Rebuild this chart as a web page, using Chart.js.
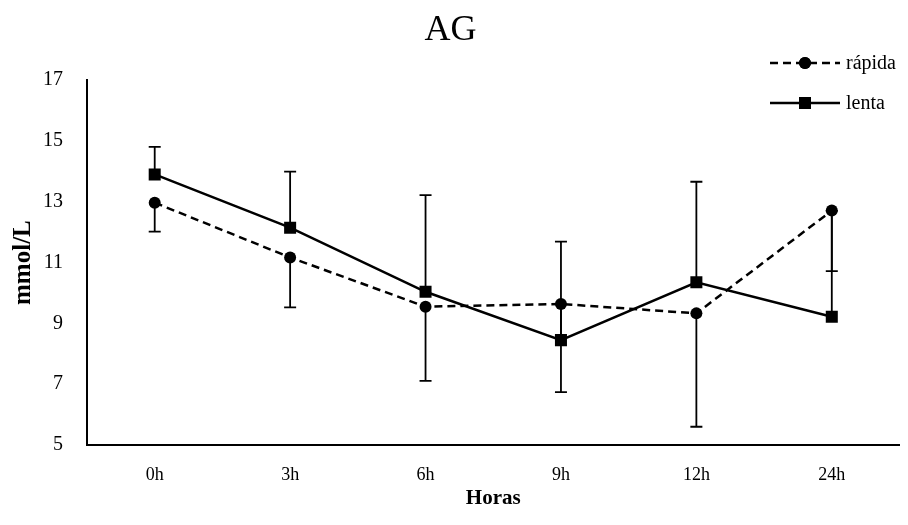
<!DOCTYPE html>
<html>
<head>
<meta charset="utf-8">
<title>AG</title>
<script src="https://cdn.jsdelivr.net/npm/chart.js@4"></script>
<style>
  body { margin: 0; background: #fff; }
  #wrap { width: 908px; height: 525px; }
</style>
</head>
<body>
<div id="wrap"><canvas id="myChart"></canvas></div>
<script>
const horas = ['0h', '3h', '6h', '9h', '12h', '24h'];
const rapida = [12.97, 11.17, 9.55, 9.64, 9.33, 12.71];
const lenta = [13.90, 12.15, 10.04, 8.45, 10.35, 9.22];
// one-sided error bars: rapida downwards, lenta upwards
const rapidaErr = [0.95, 1.64, 2.44, 2.90, 3.73, 1.99];
const lentaErr = [0.91, 1.84, 3.18, 3.24, 3.31, 3.48];
const yTicks = [5, 7, 9, 11, 13, 15, 17];

const serif = "'Liberation Serif', 'Times New Roman', serif";

const errorBars = {
    id: 'errorBars',
    beforeDatasetsDraw(chart) {
        const ctx = chart.ctx;
        const y = chart.scales.y;
        chart.data.datasets.forEach((ds, i) => {
            const meta = chart.getDatasetMeta(i);
            ctx.save();
            ctx.strokeStyle = '#000';
            ctx.lineWidth = 1.8;
            meta.data.forEach((pt, j) => {
                const end = y.getPixelForValue(ds.data[j] + ds.errDir * ds.errors[j]);
                ctx.beginPath();
                ctx.moveTo(pt.x, pt.y);
                ctx.lineTo(pt.x, end);
                ctx.moveTo(pt.x - 6, end);
                ctx.lineTo(pt.x + 6, end);
                ctx.stroke();
            });
            ctx.restore();
        });
    }
};

// legend with the line running through the marker
const lineLegend = {
    id: 'lineLegend',
    afterDraw(chart) {
        const ctx = chart.ctx;
        chart.data.datasets.forEach((ds, i) => {
            const yy = 63 + i * 40;
            ctx.save();
            ctx.strokeStyle = '#000';
            ctx.lineWidth = ds.borderWidth;
            ctx.setLineDash(ds.borderDash || []);
            ctx.beginPath();
            ctx.moveTo(770, yy);
            ctx.lineTo(840, yy);
            ctx.stroke();
            ctx.setLineDash([]);
            Chart.helpers.drawPoint(ctx, {
                pointStyle: ds.pointStyle,
                radius: ds.pointRadius,
                borderWidth: 0
            }, 805, yy);
            ctx.fillStyle = '#000';
            ctx.fill();
            ctx.font = '20px ' + serif;
            ctx.textBaseline = 'middle';
            ctx.fillText(ds.label, 846, yy + 1);
            ctx.restore();
        });
    }
};

const ctx = document.getElementById('myChart').getContext('2d');
const myChartObj = new Chart(ctx, {
    type: 'line',
    data: {
        labels: horas,
        datasets: [{
            label: 'rápida',
            data: rapida,
            errors: rapidaErr,
            errDir: -1,
            borderColor: '#000',
            backgroundColor: '#000',
            borderWidth: 2.5,
            borderDash: [8, 5],
            pointStyle: 'circle',
            pointRadius: 6,
            pointBorderWidth: 0
        }, {
            label: 'lenta',
            data: lenta,
            errors: lentaErr,
            errDir: 1,
            borderColor: '#000',
            backgroundColor: '#000',
            borderWidth: 2.5,
            pointStyle: 'rect',
            pointRadius: 8.5,
            pointBorderWidth: 0
        }]
    },
    options: {
        responsive: true,
        maintainAspectRatio: false,
        animation: false,
        layout: { padding: { top: 0, right: 7, bottom: 11, left: 0 } },
        plugins: {
            legend: { display: false },
            tooltip: { enabled: false },
            title: {
                display: true,
                text: 'AG',
                color: '#000',
                font: { family: serif, size: 36, weight: 'normal' },
                padding: { top: 9, bottom: 28 }
            }
        },
        scales: {
            x: {
                offset: true,
                afterFit(axis) { axis.height = 69; },
                grid: { display: false, drawTicks: false },
                border: { display: true, color: '#000', width: 2 },
                ticks: { color: '#000', font: { family: serif, size: 18 }, padding: 19 },
                title: {
                    display: true,
                    text: 'Horas',
                    color: '#000',
                    font: { family: serif, size: 21, weight: 'bold' },
                    padding: { top: 0, bottom: 3 }
                }
            },
            y: {
                min: yTicks[0],
                max: yTicks[yTicks.length - 1],
                afterBuildTicks(axis) {
                    axis.ticks = yTicks.map(v => ({ value: v }));
                },
                afterFit(axis) { axis.width = 87; },
                grid: { display: false, drawTicks: false },
                border: { display: true, color: '#000', width: 2 },
                ticks: { color: '#000', font: { family: serif, size: 20 }, padding: 24 },
                title: {
                    display: true,
                    text: 'mmol/L',
                    color: '#000',
                    font: { family: serif, size: 25, weight: 'bold' },
                    padding: { top: 9, bottom: 4 }
                }
            }
        }
    },
    plugins: [errorBars, lineLegend]
});
</script>
</body>
</html>
